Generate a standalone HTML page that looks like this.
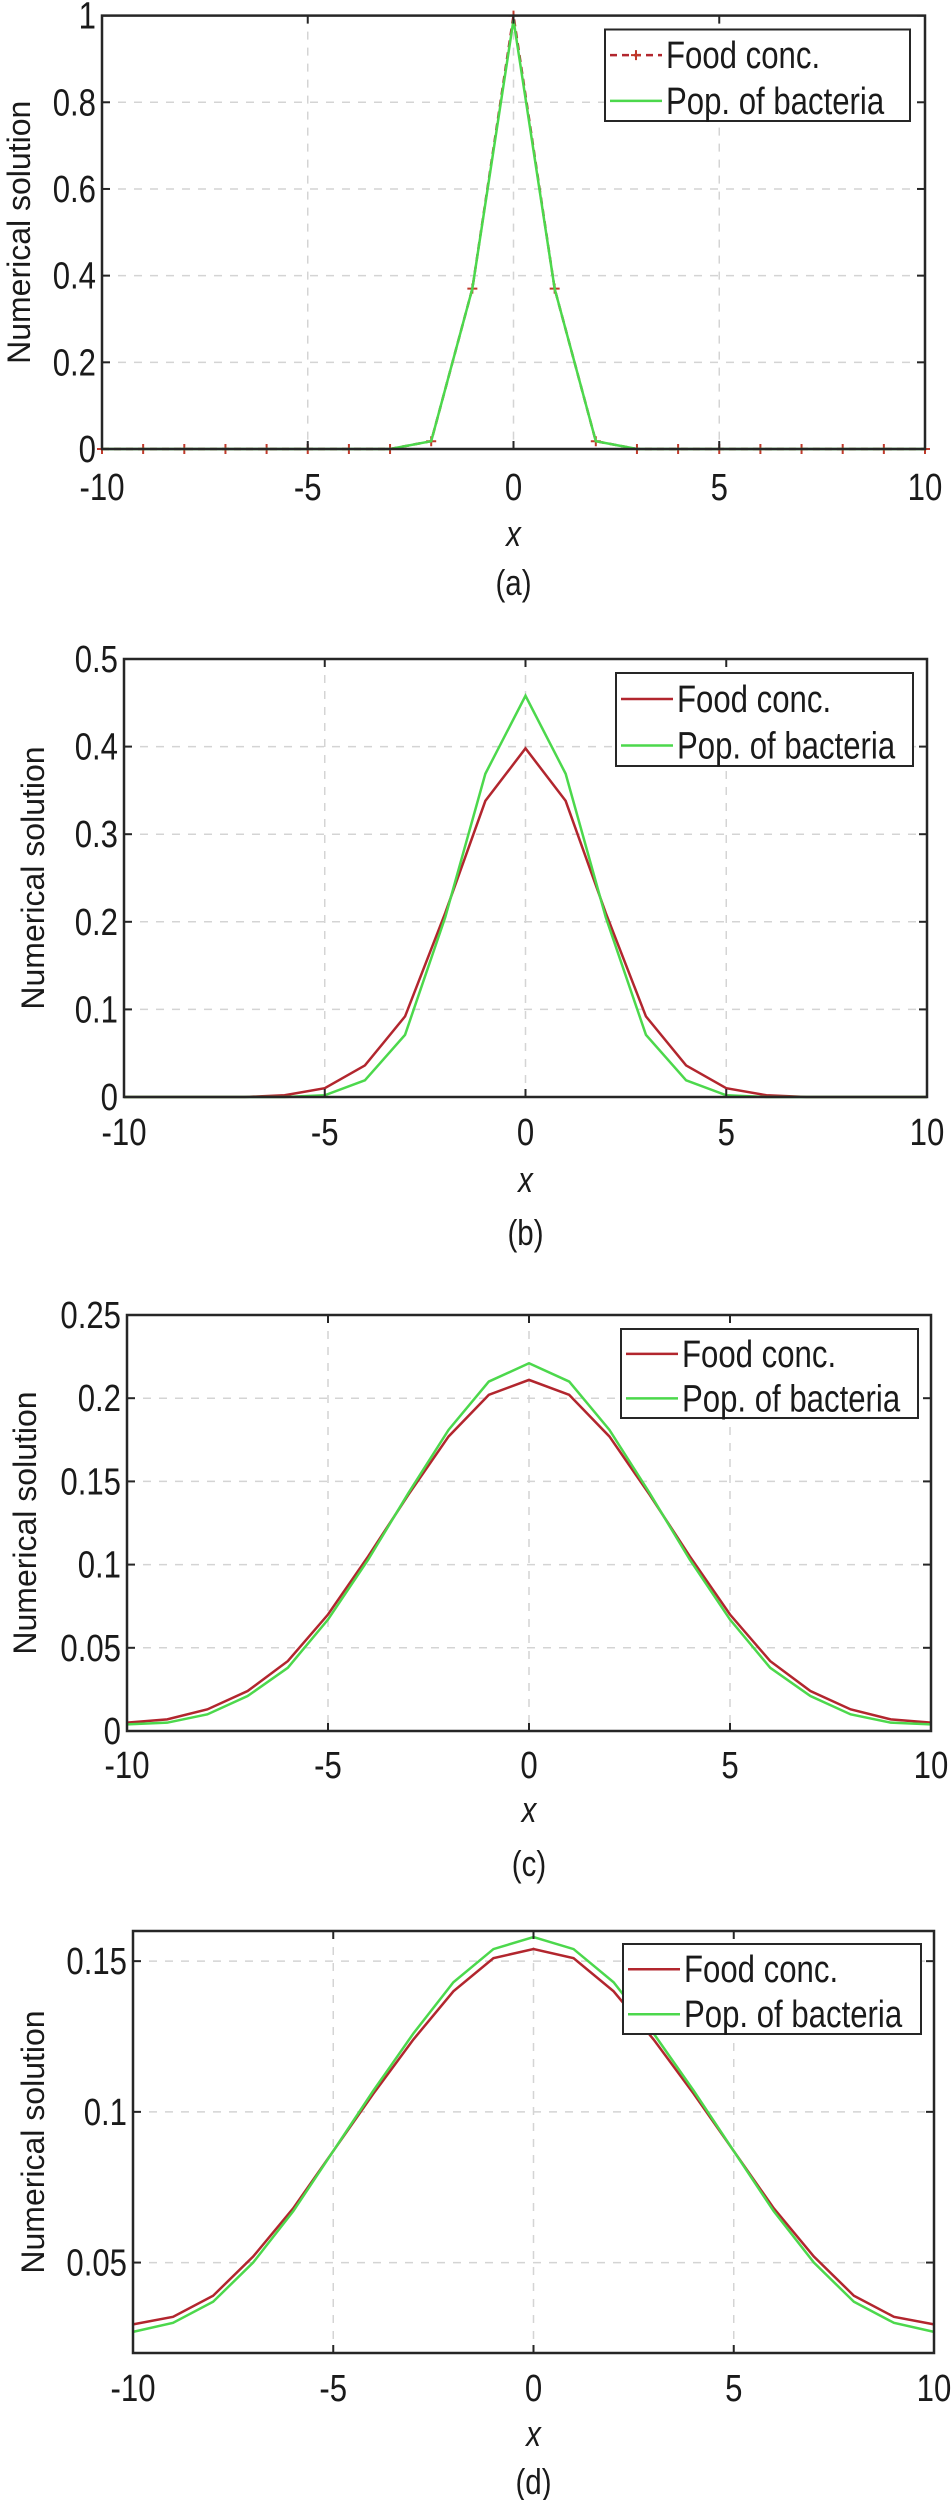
<!DOCTYPE html>
<html><head><meta charset="utf-8"><style>
html,body{margin:0;padding:0;background:#fff;}
svg{display:block;}
text{font-family:"Liberation Sans",Arial,sans-serif;fill:#1a1a1a;}
</style></head><body>
<svg id="fig" width="951" height="2500" viewBox="0 0 951 2500"></svg>
<script>
const xs = [-10,-9,-8,-7,-6,-5,-4,-3,-2,-1,0,1,2,3,4,5,6,7,8,9,10];
const xTicks = [-10,-5,0,5,10];
const foodA = [0,0,0,0,0,0,0,0,0.018,0.37,1,0.37,0.018,0,0,0,0,0,0,0,0];
const popA  = [0,0,0,0,0,0,0,0,0.018,0.37,0.99,0.37,0.018,0,0,0,0,0,0,0,0];
const foodB = [0,0,0,0,0.002,0.01,0.036,0.092,0.21,0.338,0.398,0.338,0.21,0.092,0.036,0.01,0.002,0,0,0,0];
const popB  = [0,0,0,0,0,0.002,0.019,0.071,0.205,0.369,0.458,0.369,0.205,0.071,0.019,0.002,0,0,0,0,0];
const foodC = [0.005,0.007,0.013,0.024,0.042,0.07,0.105,0.142,0.177,0.202,0.211,0.202,0.177,0.142,0.105,0.07,0.042,0.024,0.013,0.007,0.005];
const popC  = [0.004,0.005,0.010,0.021,0.038,0.067,0.103,0.143,0.181,0.210,0.221,0.210,0.181,0.143,0.103,0.067,0.038,0.021,0.010,0.005,0.004];
const foodD = [0.0295,0.032,0.039,0.052,0.068,0.087,0.106,0.124,0.140,0.151,0.154,0.151,0.140,0.124,0.106,0.087,0.068,0.052,0.039,0.032,0.0295];
const popD  = [0.027,0.030,0.037,0.050,0.067,0.087,0.107,0.126,0.143,0.154,0.158,0.154,0.143,0.126,0.107,0.087,0.067,0.050,0.037,0.030,0.027];
const yTicksA = [0,0.2,0.4,0.6,0.8,1];
const yTicksB = [0,0.1,0.2,0.3,0.4,0.5];
const yTicksC = [0,0.05,0.1,0.15,0.2,0.25];
const yTicksD = [0.05,0.1,0.15];
const yTickLabelsA = ["0","0.2","0.4","0.6","0.8","1"];
const yTickLabelsB = ["0","0.1","0.2","0.3","0.4","0.5"];
const yTickLabelsC = ["0","0.05","0.1","0.15","0.2","0.25"];
const yTickLabelsD = ["0.05","0.1","0.15"];
const captions = ["(a)","(b)","(c)","(d)"];

const NS="http://www.w3.org/2000/svg";
const svg=document.getElementById('fig');
function mk(tag,attrs,parent){const e=document.createElementNS(NS,tag);for(const k in attrs)e.setAttribute(k,attrs[k]);(parent||svg).appendChild(e);return e;}
function txt(parent,s,x,y,anchor,size,extra){
  const t=mk('text',{transform:`translate(${x},${y}) scale(0.82,1)`,'text-anchor':anchor,'font-size':size},parent);
  if(extra)for(const k in extra)t.setAttribute(k,extra[k]);
  t.textContent=s;return t;}

const panels=[
 {L:102,R:925,T:15.6,B:449,ymin:0,ymax:1,yt:yTicksA,ytl:yTickLabelsA,food:foodA,pop:popA,dashed:true,tickY:500,xlabY:546,capY:595,ylabX:30,leg:[605,29.5,910,121]},
 {L:124,R:927,T:659,B:1097,ymin:0,ymax:0.5,yt:yTicksB,ytl:yTickLabelsB,food:foodB,pop:popB,dashed:false,tickY:1145,xlabY:1192,capY:1245,ylabX:44,leg:[616,673,913,766]},
 {L:127,R:931,T:1315,B:1731,ymin:0,ymax:0.25,yt:yTicksC,ytl:yTickLabelsC,food:foodC,pop:popC,dashed:false,tickY:1778,xlabY:1822,capY:1876,ylabX:36,leg:[621,1329,918,1418]},
 {L:133,R:934,T:1931,B:2353,ymin:0.02,ymax:0.16,yt:yTicksD,ytl:yTickLabelsD,food:foodD,pop:popD,dashed:false,tickY:2401,xlabY:2446,capY:2494,ylabX:44,leg:[623,1944,921,2034]}
];

panels.forEach((p,i)=>{
  const g=mk('g',{});
  
  
  const sx=v=>p.L+(v-(-10))/20*(p.R-p.L);
  const sy=v=>p.B-(v-p.ymin)/(p.ymax-p.ymin)*(p.B-p.T);
  // grid
  xTicks.forEach(v=>{ if(v>-10&&v<10){const l=mk('line',{x1:sx(v),x2:sx(v),y1:p.T,y2:p.B,stroke:'#d4d4d4','stroke-width':1.5,'stroke-dasharray':'8,8'},g);
    }});
  p.yt.forEach(v=>{ if(v>p.ymin&&v<p.ymax){const l=mk('line',{x1:p.L,x2:p.R,y1:sy(v),y2:sy(v),stroke:'#d4d4d4','stroke-width':1.5,'stroke-dasharray':'8,8'},g);
    }});
  // series
  const pts=a=>a.map((v,k)=>sx(xs[k])+','+sy(v)).join(' ');
  const food=mk('polyline',{points:pts(p.food),fill:'none',stroke:'#b2262e','stroke-width':2.5,'stroke-dasharray':p.dashed?'7,5':'none'},g);
  
  if(p.dashed){p.food.forEach((v,k)=>{const x=sx(xs[k]),y=sy(v);
    const m=mk('path',{d:`M${x-5},${y}H${x+5}M${x},${y-5}V${y+5}`,stroke:'#c0392b','stroke-width':2},g);
    });}
  const pop=mk('polyline',{points:pts(p.pop),fill:'none',stroke:'#4cd84c','stroke-width':2.5},g);
  
  // axes box
  const box=mk('rect',{x:p.L,y:p.T,width:p.R-p.L,height:p.B-p.T,fill:'none',stroke:'#262626','stroke-width':2.5},g);
  
  // ticks
  xTicks.forEach((v,k)=>{const x=sx(v);
    mk('line',{x1:x,x2:x,y1:p.B,y2:p.B-8,stroke:'#262626','stroke-width':2},g);
    mk('line',{x1:x,x2:x,y1:p.T,y2:p.T+8,stroke:'#262626','stroke-width':2},g);
    const t=txt(g,String(v),x,p.tickY,'middle',38);
    });
  p.yt.forEach((v,k)=>{const y=sy(v);
    mk('line',{x1:p.L,x2:p.L+8,y1:y,y2:y,stroke:'#262626','stroke-width':2},g);
    mk('line',{x1:p.R,x2:p.R-8,y1:y,y2:y,stroke:'#262626','stroke-width':2},g);
    const t=txt(g,p.ytl[k],p.L-6,y+13,'end',38);
    });
  // labels
  const xl=txt(g,'x',(p.L+p.R)/2,p.xlabY,'middle',36,{'font-style':'italic'});
  
  const yl=mk('text',{transform:`translate(${p.ylabX},${(p.T+p.B)/2}) rotate(-90)`,'text-anchor':'middle','font-size':32},g);
  yl.textContent='Numerical solution';
  
  const cp=txt(g,captions[i],(p.L+p.R)/2,p.capY,'middle',36);
  
  // legend
  const [lx1,ly1,lx2,ly2]=p.leg;
  const lg=mk('g',{},g);
  
  mk('rect',{x:lx1,y:ly1,width:lx2-lx1,height:ly2-ly1,fill:'#fff',stroke:'#262626','stroke-width':2},lg);
  const r1=ly1+(ly2-ly1)*0.28, r2=ly1+(ly2-ly1)*0.78;
  const e1=mk('g',{},lg);
  mk('line',{x1:lx1+5,x2:lx1+57,y1:r1,y2:r1,stroke:'#b2262e','stroke-width':2.5,'stroke-dasharray':p.dashed?'7,5':'none'},e1);
  if(p.dashed) mk('path',{d:`M${lx1+26},${r1}h10M${lx1+31},${r1-5}v10`,stroke:'#c0392b','stroke-width':2},e1);
  txt(e1,'Food conc.',lx1+61,r1+13,'start',38);
  const e2=mk('g',{},lg);
  mk('line',{x1:lx1+5,x2:lx1+57,y1:r2,y2:r2,stroke:'#4cd84c','stroke-width':2.5},e2);
  txt(e2,'Pop. of bacteria',lx1+61,r2+13,'start',38);
});
</script>
</body></html>
